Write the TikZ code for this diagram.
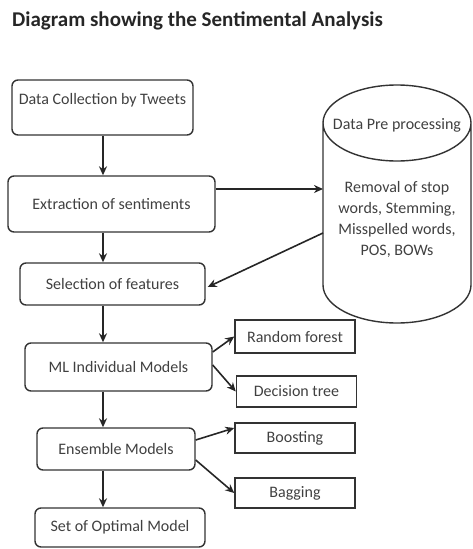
\documentclass[tikz,border=0pt]{standalone}
\usepackage{fontspec}
\setmainfont{Carlito}
\usetikzlibrary{positioning, arrows.meta, calc}

\begin{document}
\begin{tikzpicture}
    [
        x=1pt, y=-1pt,
        stagebox/.style={draw=black!80, rectangle, rounded corners=6pt, line width=1.4pt, inner sep=0pt, font=\fontsize{16}{19}\selectfont, text=black!75},
        modelbox/.style={draw=black!80, rectangle, line width=1.5pt, minimum width=120pt, minimum height=31pt, inner sep=0pt, font=\fontsize{16}{19}\selectfont, text=black!75},
        bodytext/.style={font=\fontsize{16}{21}\selectfont, text=black!75, align=center, inner sep=0pt},
        flow/.style={-{Stealth[length=9pt, width=8pt]}, line width=1.6pt, black!85}
    ]
        \useasboundingbox (0,0) rectangle (473,549);
        % =========================================================================
        % NODES
        % =========================================================================
        % --- Title ---
        \node [anchor=west, inner sep=0pt, font=\bfseries\fontsize{21}{25}\selectfont, text=black!85] (title) at (12,21) {Diagram showing the Sentimental Analysis};
        % --- Main column ---
        \node [stagebox, minimum width=181pt, minimum height=55pt, text height=11pt, text depth=18pt] (tweets) at (102.5,107.5) {Data Collection by Tweets};
        \node [stagebox, minimum width=207pt, minimum height=56pt] (extract) at (111.5,204) {Extraction of sentiments};
        \node [stagebox, minimum width=185pt, minimum height=42pt] (select) at (112.5,284) {Selection of features};
        \node [stagebox, minimum width=187pt, minimum height=48pt] (mlmodels) at (118.5,367) {ML Individual Models};
        \node [stagebox, minimum width=158pt, minimum height=42pt] (ensemble) at (116,449) {Ensemble Models};
        \node [stagebox, minimum width=170pt, minimum height=39pt] (optimal) at (120,527.5) {Set of Optimal Model};
        \coordinate (spine) at (103,0);
        % --- Pre processing store ---
        \draw [draw=black!80, line width=1.4pt]
            (397,123) ellipse [x radius=74pt, y radius=38pt]
            (323,123) -- (323,285)
            arc [start angle=180, end angle=360, x radius=74pt, y radius=38pt]
            -- (471,123);
        \coordinate (prepwest) at (323,204);
        \node [bodytext] (preptitle) at (397,125) {Data Pre processing};
        \node [bodytext] (prepbody) at (397,219) {Removal of stop\\words, Stemming,\\Misspelled words,\\POS, BOWs};
        % --- Models ---
        \node [modelbox, minimum height=33pt] (forest) at (295,336.5) {Random forest};
        \node [modelbox] (dtree) at (296.5,391.5) {Decision tree};
        \node [modelbox, minimum height=30pt] (boost) at (295,438) {Boosting};
        \node [modelbox, minimum height=30pt] (bag) at (295,493) {Bagging};

        % =========================================================================
        % PATHS
        % =========================================================================
        % --- VERTICAL ---
        \draw [flow] (tweets.south -| spine) -- (extract.north -| spine);
        \draw [flow] (extract.south -| spine) -- (select.north -| spine);
        \draw [flow] (select.south -| spine) -- (mlmodels.north -| spine);
        \draw [flow] (mlmodels.south -| spine) -- (ensemble.north -| spine);
        \draw [flow] (ensemble.south -| spine) -- (optimal.north -| spine);
        % --- TO AND FROM THE STORE ---
        \draw [flow] ([yshift=15pt]extract.east) -- ([yshift=15pt]extract.east -| prepwest);
        \draw [flow] ([yshift=-29pt]prepwest) -- ([xshift=2pt, yshift=-3pt]select.east);
        % --- BRANCHES ---
        \draw [flow] ([yshift=15pt]mlmodels.east) -- (forest.west);
        \draw [flow] ([yshift=2pt]mlmodels.east) -- (dtree.west);
        \draw [flow] ([yshift=9pt]ensemble.east) -- ([yshift=10pt]boost.west);
        \draw [flow] ([yshift=-11pt]ensemble.east) -- (bag.west);

    \end{tikzpicture}
\end{document}
